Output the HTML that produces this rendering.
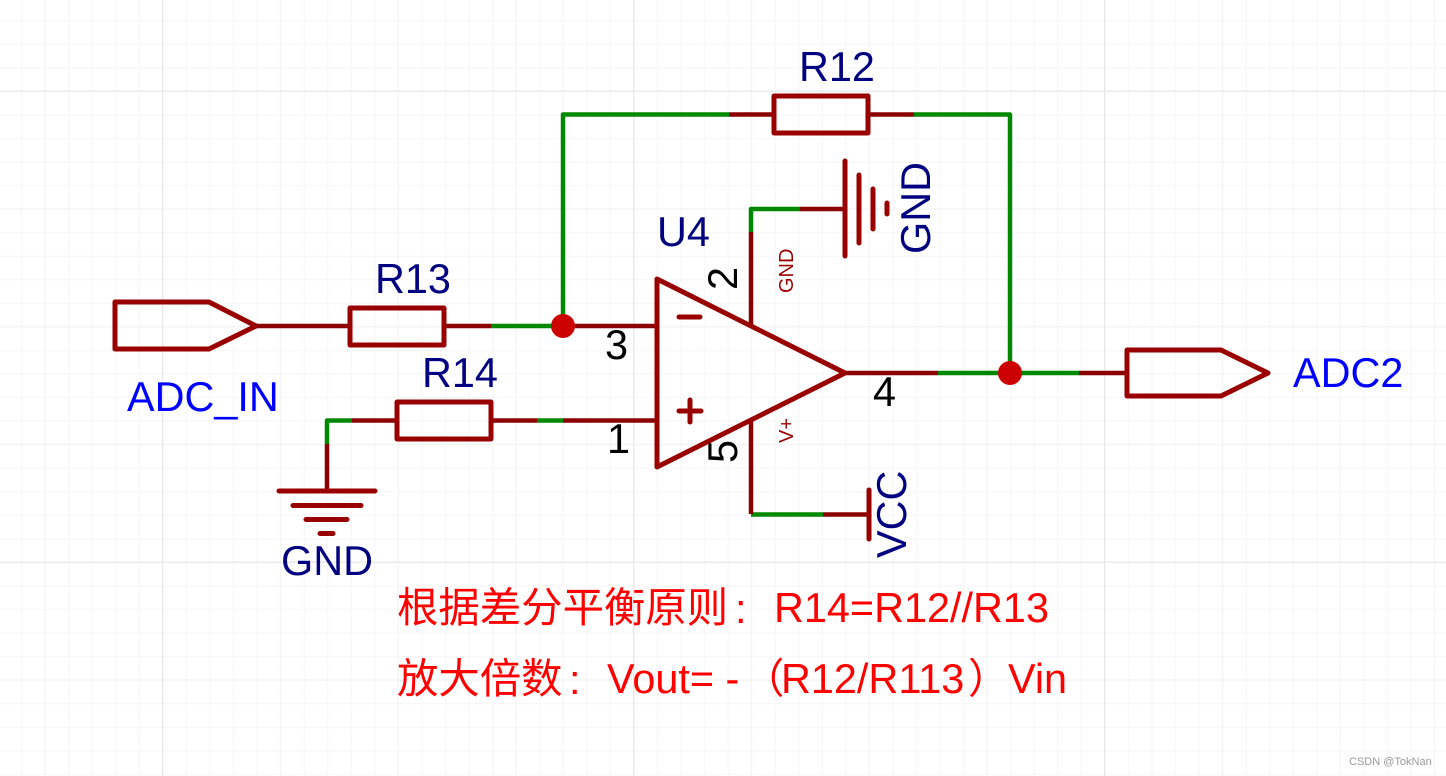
<!DOCTYPE html>
<html>
<head>
<meta charset="utf-8">
<style>
html,body{margin:0;padding:0;background:#fff}
svg{display:block}
text{font-family:"Liberation Sans","Noto Sans CJK SC",sans-serif;font-size:41.4px}
.n{fill:#000080}.b{fill:#0000ff}.k{fill:#000}.r{fill:#ff0000}
.s{font-size:20px;fill:#990000}
.w{fill:none;stroke:#990000;stroke-width:5;stroke-linecap:round;stroke-linejoin:round}
.d{fill:none;stroke:#8b0000;stroke-width:4.5;stroke-linecap:butt}
.g{fill:none;stroke:#008800;stroke-width:4.5;stroke-linecap:butt;stroke-linejoin:round}
</style>
</head>
<body>
<svg width="1446" height="776" viewBox="0 0 1446 776" xmlns="http://www.w3.org/2000/svg">
<defs>
<pattern id="p1" x="21" y="20.15" width="23.55" height="23.55" patternUnits="userSpaceOnUse">
<path d="M0.6 0V23.55M0 0.6H23.55" fill="none" stroke="#f7f7f7" stroke-width="1.2"/>
</pattern>
<pattern id="p3" x="162" y="90.5" width="117.75" height="117.75" patternUnits="userSpaceOnUse">
<path d="M0.6 0V117.75M0 0.6H117.75" fill="none" stroke="#f4f4f4" stroke-width="1.2"/>
</pattern>
<pattern id="p2" x="162" y="90.5" width="471" height="471" patternUnits="userSpaceOnUse">
<path d="M0.6 0V471M0 0.6H471" fill="none" stroke="#e8e8e8" stroke-width="1.2"/>
</pattern>
</defs>
<rect width="1446" height="776" fill="#fff"/>
<rect width="1446" height="776" fill="url(#p1)"/>
<rect width="1446" height="776" fill="url(#p3)"/>
<rect width="1446" height="776" fill="url(#p2)"/>

<!-- wires -->
<path class="g" d="M491 326H563V114.500H729"/>
<path class="g" d="M914 114.500H1010V373"/>
<path class="g" d="M938 373H1079"/>
<path class="g" d="M537 420.500H563"/>
<path class="g" d="M352 420.500H327V444"/>
<path class="g" d="M751 232V209H800"/>
<path class="g" d="M751 514.500H823"/>

<!-- R12 -->
<path class="d" d="M729 114.500H774M868 114.500H914"/>
<rect class="w" x="774" y="96" width="94" height="37"/>
<!-- R13 -->
<path class="d" d="M256 326H350M444 326H491"/>
<rect class="w" x="350" y="308" width="94" height="37"/>
<!-- R14 -->
<path class="d" d="M352 420.500H397M491 420.500H537M563 420.500H657"/>
<rect class="w" x="397" y="402" width="94" height="37"/>
<!-- ADC_IN port -->
<path class="w" d="M115 302H209L256 326L209 349H115Z"/>
<!-- ADC2 port -->
<path class="d" d="M1079 373H1127"/>
<path class="w" d="M1127 350H1221L1268 373L1221 396H1127Z"/>
<!-- Opamp -->
<path class="d" d="M563 326H657"/>
<path class="d" d="M845 373H938"/>
<path class="d" d="M751 326V232"/>
<path class="d" d="M751 420V514"/>
<path class="w" d="M657 279V467L845 373Z"/>
<path class="w" d="M679 317H700M679 411H701M690 400V422"/>
<!-- top GND -->
<path class="d" d="M800 209H845"/>
<path class="w" d="M845 161V256M859 175V243M873 189V229M887 203V214"/>
<!-- VCC -->
<path class="d" d="M823 514.500H869"/>
<path class="w" d="M869 490V539"/>
<!-- left GND -->
<path class="d" d="M327 444V491"/>
<path class="w" d="M279 491H375M293 505.500H361M306 519.500H347M320 533.500H333"/>
<!-- junctions -->
<circle cx="563" cy="326" r="12" fill="#cc0000"/>
<circle cx="1010" cy="373" r="12" fill="#cc0000"/>

<!-- labels -->
<text class="n" x="799" y="81">R12</text>
<text class="n" x="375" y="293">R13</text>
<text class="n" x="422" y="387">R14</text>
<text class="n" x="657" y="246">U4</text>
<text class="n" x="281" y="575">GND</text>
<text class="n" transform="translate(930 254) rotate(-90)">GND</text>
<text class="n" transform="translate(906 558) rotate(-90)">VCC</text>
<text class="b" x="127" y="411">ADC_IN</text>
<text class="b" x="1293" y="387">ADC2</text>
<text class="k" x="605" y="359">3</text>
<text class="k" x="607" y="453">1</text>
<text class="k" x="873" y="406">4</text>
<text class="k" transform="translate(737 290) rotate(-90)">2</text>
<text class="k" transform="translate(737 463) rotate(-90)">5</text>
<text class="s" transform="translate(793 293) rotate(-90)">GND</text>
<text class="s" transform="translate(793 443) rotate(-90)">V+</text>

<text class="r" x="397" y="622">根据差分平衡原则</text>
<text class="r" x="735" y="623">:</text>
<text class="r" x="774" y="622">R14=R12//R13</text>
<text class="r" x="397" y="693">放大倍数</text>
<text class="r" x="569" y="694">:</text>
<text class="r" x="607" y="693">Vout= -</text>
<text class="r" x="743" y="693">（</text>
<text class="r" x="781" y="693">R12/R113</text>
<text class="r" x="968" y="693">）</text>
<text class="r" x="1008" y="693">Vin</text>

<text x="1349" y="765" style="font-size:11px;fill:#999">CSDN @TokNan</text>
</svg>
</body>
</html>
